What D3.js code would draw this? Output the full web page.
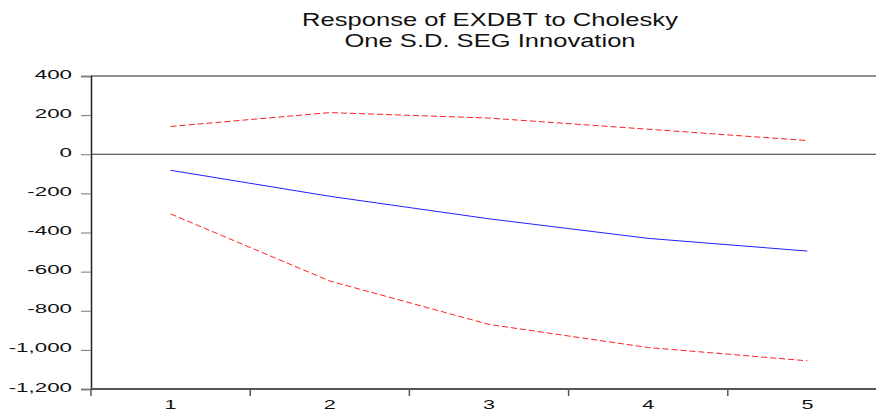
<!DOCTYPE html>
<html>
<head>
<meta charset="utf-8">
<script src="https://cdn.jsdelivr.net/npm/d3@7"></script>
<style>
  body { margin: 0; background: #fff; }
  svg { display: block; font-family: Arial, "Liberation Sans", sans-serif; }
</style>
</head>
<body>
<svg id="chart" width="876" height="411"></svg>
<script>
// periods after the shock
const periods = [1, 2, 3, 4, 5];
// impulse response and +/- 2 S.E. bands
const response = [-82, -215, -330, -430, -495];
const upperBand = [142, 213, 185, 128, 70];
const lowerBand = [-305, -648, -870, -988, -1056];
const yTicks = [400, 200, 0, -200, -400, -600, -800, -1000, -1200];
const titleLines = ["Response of EXDBT to Cholesky", "One S.D. SEG Innovation"];

const svg = d3.select("#chart");
const plotL = 91, plotR = 887, plotT = 76, plotB = 389;
const sx = 1.72; // eviews text comes out stretched sideways

const x = d3.scaleBand().domain(periods).range([plotL, plotR]).padding(0);
const y = d3.scaleLinear().domain([-1200, 400]).range([plotB, plotT]);

// title
svg.selectAll(".title")
    .data(titleLines)
    .enter()
    .append("text")
    .attr("class", "title")
    .attr("transform", (d, i) => "translate(490," + (26 + i * 21) + ") scale(1.42,1)")
    .attr("text-anchor", "middle")
    .style("font-size", "18px")
    .attr("fill", "#111")
    .text(d => d);

// frame top
svg.append("line")
    .attr("x1", plotL).attr("x2", plotR)
    .attr("y1", plotT).attr("y2", plotT)
    .attr("stroke", "#222").attr("stroke-width", 1);

// zero line
svg.append("line")
    .attr("x1", plotL).attr("x2", plotR)
    .attr("y1", y(0)).attr("y2", y(0))
    .attr("stroke", "#333").attr("stroke-width", 1);

// y axis
const yAxis = svg.append("g")
    .attr("transform", "translate(" + plotL + ",0)")
    .call(d3.axisLeft(y).tickValues(yTicks).tickSize(10).tickFormat(""));
yAxis.select(".domain").attr("stroke", "#222").attr("stroke-width", 1.5);
yAxis.selectAll(".tick line").attr("stroke", "#777");

svg.selectAll(".ylab")
    .data(yTicks)
    .enter()
    .append("text")
    .attr("class", "ylab")
    .attr("transform", d => "translate(72," + (y(d) + 2.5) + ") scale(" + sx + ",1)")
    .attr("text-anchor", "end")
    .style("font-size", "13px")
    .attr("fill", "#111")
    .text(d => d3.format(",")(d).replace("−", "-"));

// x axis: ticks on the band edges, labels in the middle
const edges = periods.map(p => x(p)).concat([plotR]);
const xAxis = svg.append("g");
xAxis.append("line")
    .attr("x1", plotL).attr("x2", plotR)
    .attr("y1", plotB).attr("y2", plotB)
    .attr("stroke", "#555").attr("stroke-width", 2);
xAxis.selectAll(".xtick")
    .data(edges)
    .enter()
    .append("line")
    .attr("x1", d => d).attr("x2", d => d)
    .attr("y1", plotB).attr("y2", plotB + 7)
    .attr("stroke", "#555").attr("stroke-width", 1.5);
xAxis.selectAll(".xlab")
    .data(periods)
    .enter()
    .append("text")
    .attr("transform", d => "translate(" + (x(d) + x.bandwidth() / 2) + ",408.5) scale(1.6,1)")
    .attr("text-anchor", "middle")
    .style("font-size", "13.5px")
    .attr("fill", "#111")
    .text(d => d);

// series
const line = d3.line()
    .x((d, i) => x(periods[i]) + x.bandwidth() / 2)
    .y(d => y(d));

svg.append("path")
    .datum(upperBand)
    .attr("d", line)
    .attr("fill", "none")
    .attr("stroke", "#ff2020")
    .attr("stroke-width", 1)
    .attr("stroke-dasharray", "6,3");

svg.append("path")
    .datum(lowerBand)
    .attr("d", line)
    .attr("fill", "none")
    .attr("stroke", "#ff2020")
    .attr("stroke-width", 1)
    .attr("stroke-dasharray", "6,3");

svg.append("path")
    .datum(response)
    .attr("d", line)
    .attr("fill", "none")
    .attr("stroke", "#2020ff")
    .attr("stroke-width", 1);
</script>
</body>
</html>
